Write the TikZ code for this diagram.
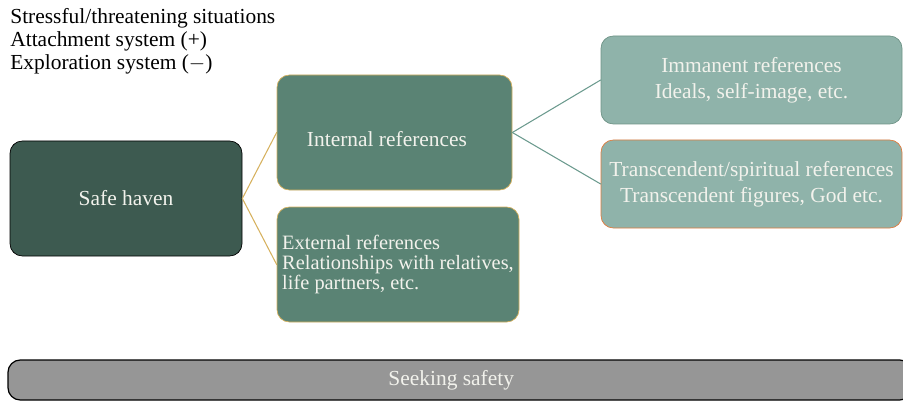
\documentclass[tikz,border=0pt]{standalone}
\usepackage{fontspec}
\setmainfont{Liberation Serif}
\usetikzlibrary{positioning}

\definecolor{havenfill}{HTML}{3D5A50}
\definecolor{innerfill}{HTML}{5A8374}
\definecolor{goldline}{HTML}{D6B15E}
\definecolor{palefill}{HTML}{8FB3AA}
\definecolor{paleline}{HTML}{6E9386}
\definecolor{tealline}{HTML}{6B9A8E}
\definecolor{orangeline}{HTML}{E07B3E}
\definecolor{greyfill}{HTML}{969696}
\definecolor{boxtext}{HTML}{F2F2EC}

\begin{document}
\begin{tikzpicture}[x=0.02cm,y=-0.02cm,line cap=round,line join=round,
	box/.style={rounded corners=7pt,text=boxtext,font=\fontsize{12.2}{15}\selectfont,align=center,inner sep=2pt},
	havenbox/.style={box,draw=black,fill=havenfill,minimum width=232*0.02cm,minimum height=115*0.02cm},
	refbox/.style={box,draw=goldline,fill=innerfill,minimum width=235*0.02cm,minimum height=115*0.02cm},
	subbox/.style={box,fill=palefill,minimum width=301*0.02cm,minimum height=88*0.02cm},
	goldlink/.style={draw=goldline,line width=0.6pt},
	teallink/.style={draw=tealline,line width=0.6pt}]
	\useasboundingbox (0,0) rectangle (903,402);
	
	% header
	\node[anchor=north west,align=left,inner sep=0pt,font=\fontsize{12.2}{13.2}\selectfont] (head) at (10,8)
		{Stressful/threatening situations\\Attachment system (+)\\Exploration system ($-$)};
	
	\node[havenbox] (haven) at (126,198.5) {Safe haven};
	\node[refbox] (internal) at (394.5,132.5) {\hspace*{-0.7em}\raisebox{-4pt}[\height][\depth]{Internal references}};
	\node[refbox,minimum width=242*0.02cm,align=left,
		font=\fontsize{11.6}{11.2}\selectfont] (external) at (398,264.5)
		{External references\\Relationships with relatives,\\life partners, etc.};
	
	\node[subbox,draw=paleline] (immanent) at (751.5,80)
		{Immanent references\\Ideals, self-image, etc.};
	\node[subbox,draw=orangeline] (transcendent) at (751.5,184)
		{Transcendent/spiritual references\\Transcendent figures, God etc.};
	
	\node[box,draw=black,line width=0.7pt,fill=greyfill,minimum width=904*0.02cm,minimum height=40*0.02cm] (seeking) at (460,380) {\hspace*{-10pt}Seeking safety};
	
	\foreach \t in {internal,external}
		\draw[goldlink] (haven.east) -- (\t.west);
	\foreach \t in {immanent,transcendent}
		\draw[teallink] (internal.east) -- (\t.west);
\end{tikzpicture}
\end{document}
